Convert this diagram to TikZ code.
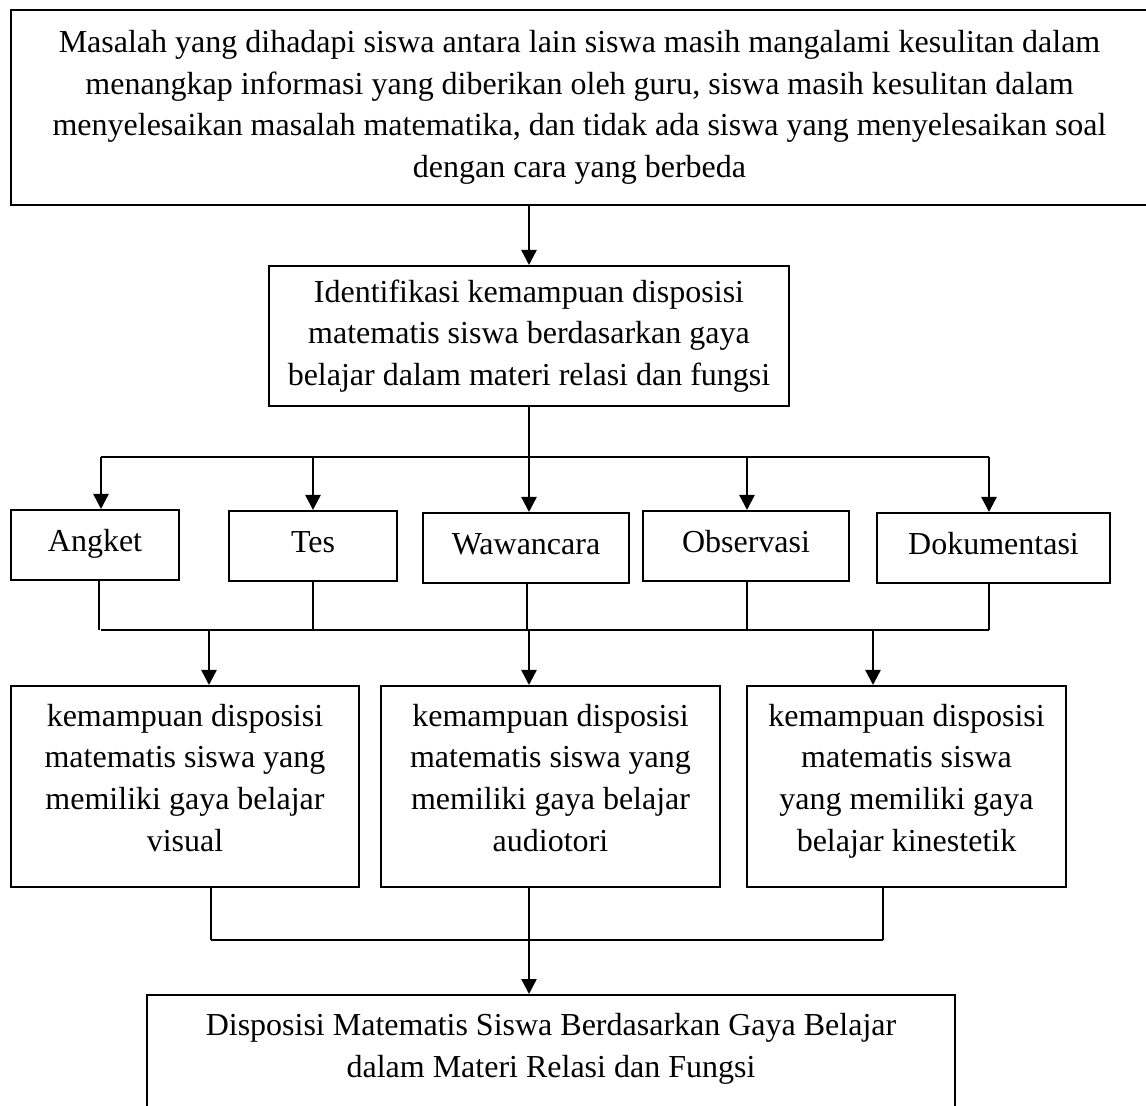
\documentclass[tikz,border=0pt]{standalone}
\usepackage{fontspec}
\setmainfont{Liberation Serif}
\usetikzlibrary{arrows.meta}
\newcommand{\lowstrut}{\rule[-9pt]{0pt}{0pt}}
\begin{document}
\begin{tikzpicture}[x=0.5pt,y=-0.5pt,
  box/.style={draw=black,line width=1pt,inner sep=0pt,align=center,
    font=\fontsize{16pt}{20.85pt}\selectfont},
  onebox/.style={box,minimum height=35pt,text height=11pt,text depth=4pt},
  txt/.style={inner sep=0pt,align=center,font=\fontsize{16pt}{20.85pt}\selectfont},
  link/.style={line width=0.8pt},
  arr/.style={line width=1.2pt,-{Triangle[width=7.5pt,length=7.5pt]}}]
\useasboundingbox (0,0) rectangle (1146,1106);

% problem statement
\node[box,minimum width=568.5pt,minimum height=97.5pt] (masalah) at (579.5,107.5)
  {Masalah yang dihadapi siswa antara lain siswa masih mangalami kesulitan dalam\\
   menangkap informasi yang diberikan oleh guru, siswa masih kesulitan dalam\\
   menyelesaikan masalah matematika, dan tidak ada siswa yang menyelesaikan soal\\
   dengan cara yang berbeda};

% identification
\node[box,minimum width=260pt,minimum height=70pt] (ident) at (529,336)
  {Identifikasi kemampuan disposisi\\ matematis siswa berdasarkan gaya\\
   belajar dalam materi relasi dan fungsi};

% instruments
\node[onebox,minimum width=84pt] (angket) at (95,545) {Angket};
\node[onebox,minimum width=84pt] (tes) at (313,546) {Tes};
\node[onebox,minimum width=103pt] (wawan) at (526,548) {Wawancara};
\node[onebox,minimum width=103pt] (obs) at (746,546) {Observasi};
\node[onebox,minimum width=116.5pt] (dok) at (993.5,548) {Dokumentasi};

% learning styles
\node[box,minimum width=174pt,minimum height=100.5pt] (visual) at (185,786.5)
  {kemampuan disposisi\\ matematis siswa yang\\ memiliki gaya belajar\\ visual\lowstrut};
\node[box,minimum width=169.5pt,minimum height=100.5pt] (audio) at (550.5,786.5)
  {kemampuan disposisi\\ matematis siswa yang\\ memiliki gaya belajar\\ audiotori\lowstrut};
\node[box,minimum width=159.5pt,minimum height=100.5pt] (kines) at (906.5,786.5)
  {kemampuan disposisi\\ matematis siswa\\ yang memiliki gaya\\ belajar kinestetik\lowstrut};

% result
\node[box,anchor=north,minimum width=404pt,minimum height=100pt] (hasil) at (551,994) {};
\node[txt] (hasilText) at (551,1049)
  {Disposisi Matematis Siswa Berdasarkan Gaya Belajar\\ dalam Materi Relasi dan Fungsi};

% bus coordinates
\coordinate (ua) at (101,457);
\coordinate (ub) at (313,457);
\coordinate (uc) at (529,457);
\coordinate (ud) at (747,457);
\coordinate (ue) at (989,457);
\coordinate (la) at (99,630);
\coordinate (lb) at (313,630);
\coordinate (lc) at (527,630);
\coordinate (ld) at (747,630);
\coordinate (le) at (989,630);
\coordinate (da) at (209,630);
\coordinate (db) at (529,630);
\coordinate (dc) at (873,630);
\coordinate (ma) at (211,940);
\coordinate (mb) at (529,940);
\coordinate (mc) at (883,940);

% connectors
\draw[arr] (ident.north |- masalah.south) -- (ident.north);
\draw[link] (ident.south) -- (uc);
\draw[link] (ua) -- (ue);
\draw[arr] (ua) -- (ua |- angket.north);
\draw[arr] (ub) -- (tes.north);
\draw[arr] (uc) -- (uc |- wawan.north);
\draw[arr] (ud) -- (ud |- obs.north);
\draw[arr] (ue) -- (ue |- dok.north);

\draw[link] (la |- angket.south) -- (la);
\draw[link] (tes.south) -- (lb);
\draw[link] (lc |- wawan.south) -- (lc);
\draw[link] (ld |- obs.south) -- (ld);
\draw[link] (le |- dok.south) -- (le);
\draw[link] (ua |- la) -- (le);

\draw[arr] (da) -- (da |- visual.north);
\draw[arr] (db) -- (db |- audio.north);
\draw[arr] (dc) -- (dc |- kines.north);

\draw[link] (ma |- visual.south) -- (ma);
\draw[link] (mb |- audio.south) -- (mb);
\draw[link] (mc |- kines.south) -- (mc);
\draw[link] (ma) -- (mc);
\draw[arr] (mb) -- (mb |- hasil.north);
\end{tikzpicture}
\end{document}
